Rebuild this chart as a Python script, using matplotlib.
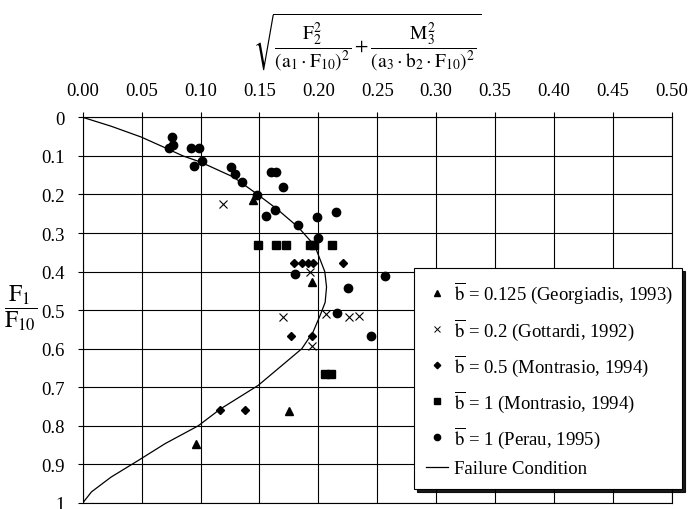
import numpy as np
import matplotlib
matplotlib.use("Agg")
import matplotlib.pyplot as plt
from matplotlib.lines import Line2D

plt.rcParams['font.family'] = ['Liberation Serif', 'DejaVu Serif']
plt.rcParams['mathtext.fontset'] = 'stix'

# ---- data ----
georgiadis_x = [0.1448, 0.1944, 0.1748, 0.0965]
georgiadis_y = [0.2135, 0.4275, 0.762, 0.846]

gottardi_x = [0.1189, 0.1930, 0.1700, 0.2068, 0.2257, 0.2345, 0.1950]
gottardi_y = [0.226, 0.400, 0.518, 0.511, 0.518, 0.5155, 0.592]

montrasio05_x = [0.1795, 0.1860, 0.1910, 0.1958, 0.2207, 0.1765, 0.1944, 0.1164, 0.1378]
montrasio05_y = [0.378, 0.378, 0.378, 0.378, 0.378, 0.568, 0.568, 0.758, 0.758]

montrasio1_x = [0.1485, 0.1643, 0.1726, 0.1927, 0.1960, 0.2114, 0.2057, 0.2108]
montrasio1_y = [0.332, 0.332, 0.332, 0.332, 0.332, 0.332, 0.665, 0.665]

perau_x = [0.0755, 0.0730, 0.0764, 0.0920, 0.0985, 0.0948, 0.1014, 0.1258, 0.1295,
           0.1355, 0.1480, 0.1600, 0.1640, 0.1700, 0.1560, 0.1632, 0.1830, 0.1800,
           0.2000, 0.1990, 0.2150, 0.2569, 0.2252, 0.2161, 0.2447]
perau_y = [0.051, 0.079, 0.073, 0.079, 0.079, 0.126, 0.114, 0.128, 0.146,
           0.169, 0.201, 0.143, 0.143, 0.180, 0.257, 0.241, 0.279, 0.407,
           0.313, 0.258, 0.246, 0.411, 0.442, 0.507, 0.568]

failure_x = [0.0, 0.024, 0.0495, 0.070, 0.085, 0.100, 0.128, 0.148, 0.165, 0.183,
             0.197, 0.2055, 0.2070, 0.2058, 0.2015, 0.1955, 0.1860, 0.1685, 0.1490,
             0.1170, 0.0980, 0.0700, 0.0470, 0.0240, 0.0075, 0.0]
failure_y = [0.0, 0.023, 0.051, 0.079, 0.100, 0.116, 0.155, 0.199, 0.238, 0.285,
             0.333, 0.400, 0.440, 0.480, 0.514, 0.557, 0.600, 0.645, 0.695,
             0.756, 0.800, 0.846, 0.890, 0.933, 0.971, 1.0]

x_ticks = [0.00, 0.05, 0.10, 0.15, 0.20, 0.25, 0.30, 0.35, 0.40, 0.45, 0.50]
x_ticklabels = ['0.00', '0.05', '0.10', '0.15', '0.20', '0.25', '0.30', '0.35', '0.40', '0.45', '0.50']
y_ticks = [0, 0.1, 0.2, 0.3, 0.4, 0.5, 0.6, 0.7, 0.8, 0.9, 1.0]
y_ticklabels = ['0', '0.1', '0.2', '0.3', '0.4', '0.5', '0.6', '0.7', '0.8', '0.9', '1']

labels = [r'$\overline{\mathrm{b}}$ = 0.125 (Georgiadis, 1993)',
          r'$\overline{\mathrm{b}}$ = 0.2 (Gottardi, 1992)',
          r'$\overline{\mathrm{b}}$ = 0.5 (Montrasio, 1994)',
          r'$\overline{\mathrm{b}}$ = 1 (Montrasio, 1994)',
          r'$\overline{\mathrm{b}}$ = 1 (Perau, 1995)',
          'Failure Condition']

# ---- figure ----
fig = plt.figure(figsize=(6.88, 5.10), dpi=100)
ax = fig.add_axes([82.7 / 688, 1 - 504 / 510, (671.7 - 82.7) / 688, (504 - 118.3) / 510])

ax.plot(failure_x, failure_y, color='k', lw=0.9, zorder=3)
ax.plot(georgiadis_x, georgiadis_y, ls='none', marker='^', ms=6, color='k', zorder=4)
ax.plot(gottardi_x, gottardi_y, ls='none', marker='x', ms=6, mew=0.8, color='k', zorder=4)
ax.plot(montrasio05_x, montrasio05_y, ls='none', marker='D', ms=4.3, color='k', zorder=4)
ax.plot(montrasio1_x, montrasio1_y, ls='none', marker='s', ms=5.5, color='k', zorder=4)
ax.plot(perau_x, perau_y, ls='none', marker='o', ms=6, color='k', zorder=4)

ax.set_xlim(0, 0.5)
ax.set_ylim(1, 0)
ax.xaxis.tick_top()
ax.set_xticks(x_ticks)
ax.set_xticklabels(x_ticklabels)
ax.set_yticks(y_ticks)
ax.set_yticklabels(y_ticklabels)
ax.tick_params(direction='out', length=3.5, width=0.8, pad=9.5, labelsize=13.5,
               colors='k')
ax.grid(True, color='k', lw=0.8)
ax.set_axisbelow(True)
for s in ax.spines.values():
    s.set_linewidth(0.8)
    s.set_color('k')

handles = [Line2D([], [], ls='none', marker='^', ms=4.5, color='k'),
           Line2D([], [], ls='none', marker='x', ms=4.5, mew=0.7, color='k'),
           Line2D([], [], ls='none', marker='D', ms=3.3, color='k'),
           Line2D([], [], ls='none', marker='s', ms=4.3, color='k'),
           Line2D([], [], ls='none', marker='o', ms=4.5, color='k'),
           Line2D([], [], color='k', lw=0.9)]
leg = ax.legend(handles, labels, loc='upper left',
                bbox_to_anchor=(0.5625, 0.036, 0.455, 0.573), mode='expand',
                borderaxespad=0, fontsize=13.5, frameon=True, fancybox=False,
                framealpha=1, edgecolor='k', handlelength=1.2, handletextpad=0.3,
                labelspacing=0.55, borderpad=0.62,
                shadow={'color': 'k', 'alpha': 0.9})
leg.get_frame().set_linewidth(0.8)
leg.set_zorder(10)

fig.text(367 / 688, 1 - 42 / 510,
         r'$\sqrt{\dfrac{\mathrm{F}_2^2}{(\mathrm{a}_1\cdot\mathrm{F}_{10})^2}+'
         r'\dfrac{\mathrm{M}_3^2}{(\mathrm{a}_3\cdot\mathrm{b}_2\cdot\mathrm{F}_{10})^2}}$',
         ha='center', va='center', fontsize=14)
fig.text(21 / 688, 1 - 308 / 510, r'$\dfrac{\mathrm{F}_1}{\mathrm{F}_{10}}$',
         ha='center', va='center', fontsize=17)

fig.savefig('out.png', dpi=100)
